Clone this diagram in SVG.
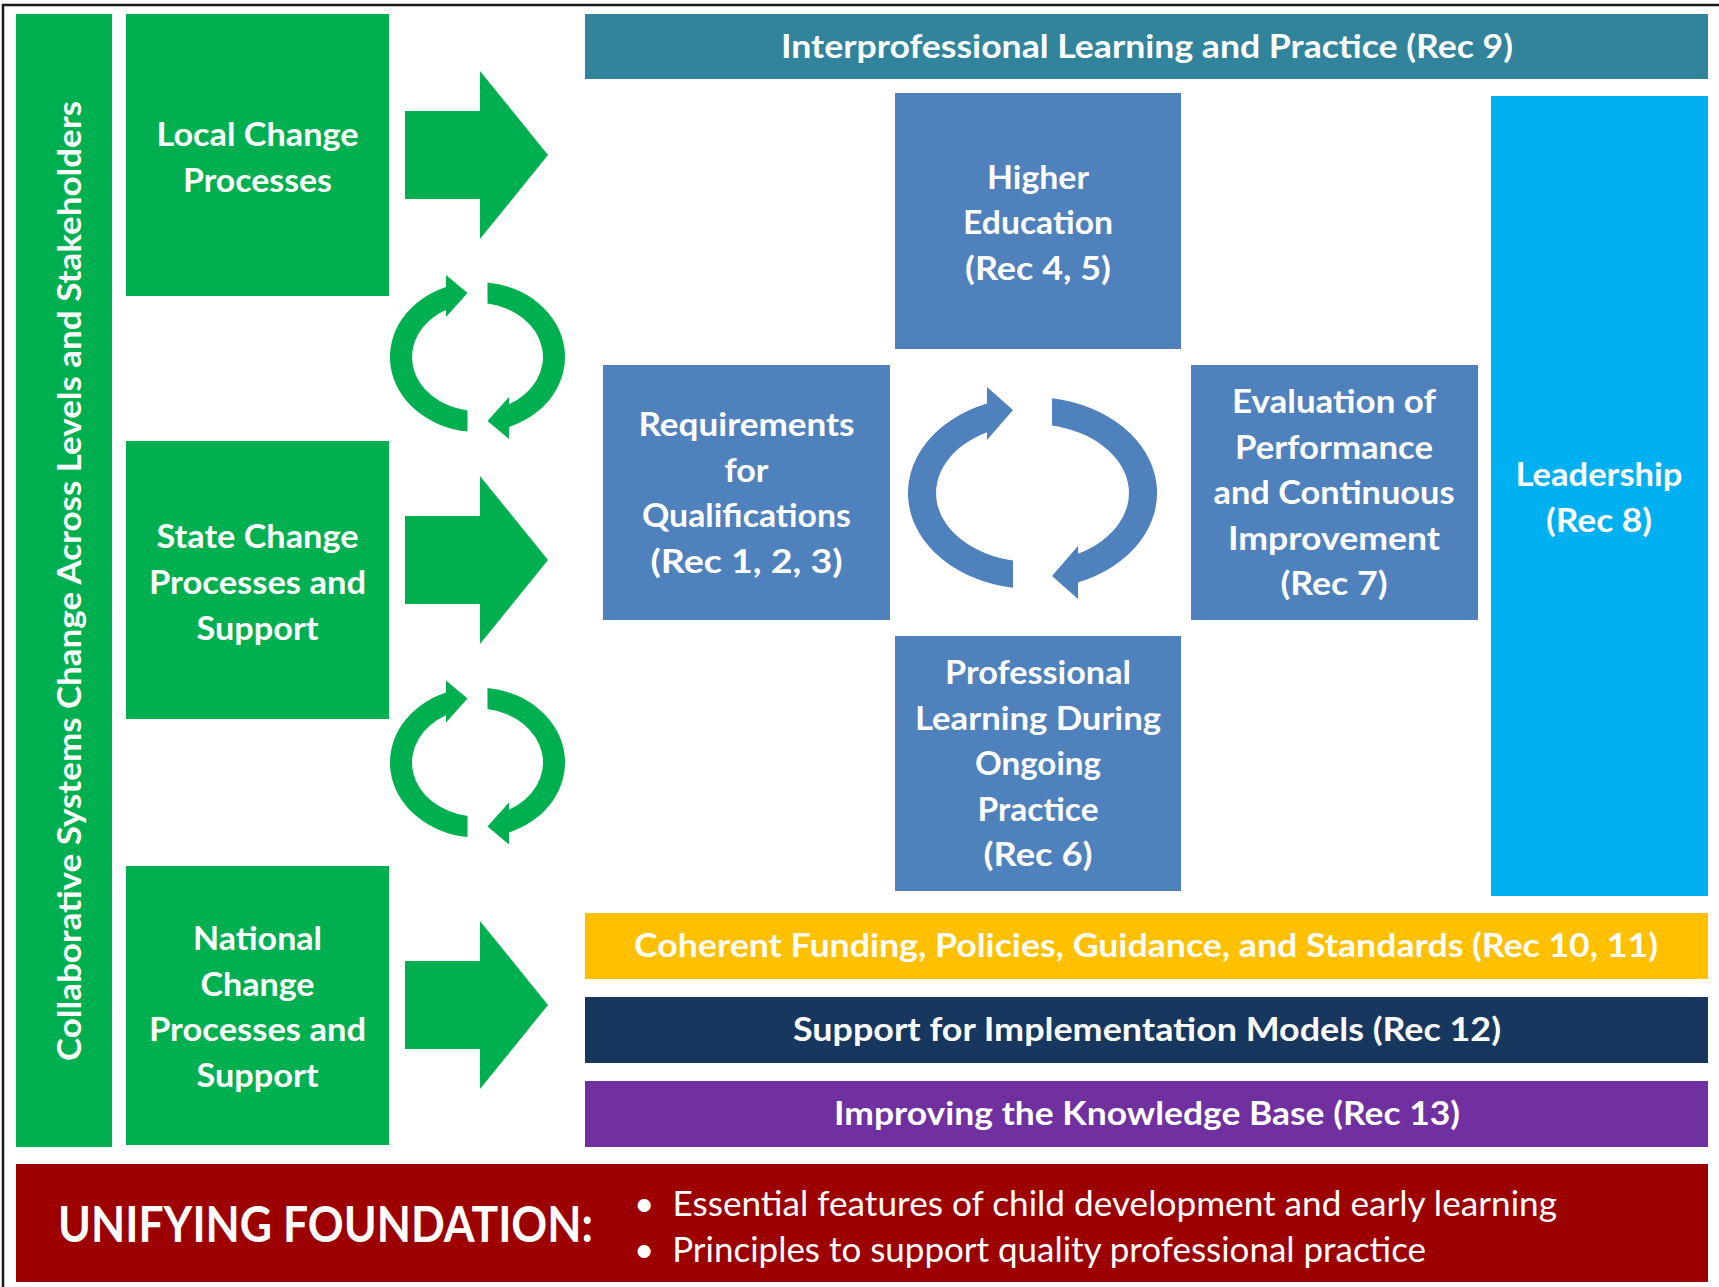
<svg xmlns="http://www.w3.org/2000/svg" width="1719" height="1287" viewBox="0 0 1719 1287">
<style>
.t{font-family:Lato,"Open Sans","Liberation Sans",sans-serif;font-weight:700;fill:#fff;text-anchor:middle}
.s{font-size:33px}
.bar{font-size:32px}
.g{fill:#00B050}
.bl{fill:#4F81BD}
.ft{font-family:Lato,"Open Sans","Liberation Sans",sans-serif;fill:#fff}
</style>
<defs>
<path id="garc" d="M-10 74.5A87.5 75 0 0 1-31.5-70L-31.5-82L-10-64L-31.5-40L-31.5-47.3A65.5 54 0 0 0-10 53.4Z"/>
<path id="barc" d="M-19.5 94.8A124.5 96 0 0 1-45.5-89.4L-45.5-106L-19.5-83L-45.5-53L-45.5-60.8A96.5 69 0 0 0-19.5 67.6Z"/>
<polygon id="barrow" points="405,-44 480,-44 480,-84 548,0 480,84 480,44 405,44"/>
</defs>
<rect width="1719" height="1287" fill="#fff"/>
<path d="M3 1287V5H1719" fill="none" stroke="#1a1a1a" stroke-width="2.5"/>

<g id="systems-change">
<rect class="g" x="16" y="14" width="96" height="1133"/>
<text class="t bar" transform="translate(81,581) rotate(-90)" textLength="960" lengthAdjust="spacingAndGlyphs">Collaborative Systems Change Across Levels and Stakeholders</text>
</g>

<g id="local-change">
<rect class="g" x="126" y="14" width="263" height="282"/>
<text class="t s" x="257.5" y="146" textLength="202" lengthAdjust="spacingAndGlyphs">Local Change</text>
<text class="t s" x="257.5" y="192" textLength="149" lengthAdjust="spacingAndGlyphs">Processes</text>
</g>

<g id="state-change">
<rect class="g" x="126" y="441" width="263" height="278"/>
<text class="t s" x="257.5" y="548" textLength="202" lengthAdjust="spacingAndGlyphs">State Change</text>
<text class="t s" x="257.5" y="594" textLength="217" lengthAdjust="spacingAndGlyphs">Processes and</text>
<text class="t s" x="257.5" y="640" textLength="122" lengthAdjust="spacingAndGlyphs">Support</text>
</g>

<g id="national-change">
<rect class="g" x="126" y="866" width="263" height="279"/>
<text class="t s" x="257.5" y="950" textLength="129" lengthAdjust="spacingAndGlyphs">National</text>
<text class="t s" x="257.5" y="996" textLength="114" lengthAdjust="spacingAndGlyphs">Change</text>
<text class="t s" x="257.5" y="1041" textLength="217" lengthAdjust="spacingAndGlyphs">Processes and</text>
<text class="t s" x="257.5" y="1087" textLength="122" lengthAdjust="spacingAndGlyphs">Support</text>
</g>

<g id="interprofessional">
<rect x="585" y="14" width="1123" height="65" fill="#31849B"/>
<text class="t bar" x="1147" y="58" textLength="732" lengthAdjust="spacingAndGlyphs">Interprofessional Learning and Practice (Rec 9)</text>
</g>

<g id="higher-education">
<rect class="bl" x="895" y="93" width="286" height="256"/>
<text class="t s" x="1038" y="189" textLength="102" lengthAdjust="spacingAndGlyphs">Higher</text>
<text class="t s" x="1038" y="234" textLength="150" lengthAdjust="spacingAndGlyphs">Education</text>
<text class="t s" x="1038" y="280" textLength="146" lengthAdjust="spacingAndGlyphs">(Rec 4, 5)</text>
</g>

<g id="requirements">
<rect class="bl" x="603" y="365" width="287" height="255"/>
<text class="t s" x="746.5" y="436" textLength="216" lengthAdjust="spacingAndGlyphs">Requirements</text>
<text class="t s" x="746.5" y="482" textLength="44" lengthAdjust="spacingAndGlyphs">for</text>
<text class="t s" x="746.5" y="527" textLength="209" lengthAdjust="spacingAndGlyphs">Qualifications</text>
<text class="t s" x="746.5" y="573" textLength="192" lengthAdjust="spacingAndGlyphs">(Rec 1, 2, 3)</text>
</g>

<g id="evaluation">
<rect class="bl" x="1191" y="365" width="287" height="255"/>
<text class="t s" x="1334" y="413" textLength="204" lengthAdjust="spacingAndGlyphs">Evaluation of</text>
<text class="t s" x="1334" y="459" textLength="198" lengthAdjust="spacingAndGlyphs">Performance</text>
<text class="t s" x="1334" y="504" textLength="241" lengthAdjust="spacingAndGlyphs">and Continuous</text>
<text class="t s" x="1334" y="550" textLength="212" lengthAdjust="spacingAndGlyphs">Improvement</text>
<text class="t s" x="1334" y="595" textLength="107" lengthAdjust="spacingAndGlyphs">(Rec 7)</text>
</g>

<g id="professional-learning">
<rect class="bl" x="895" y="636" width="286" height="255"/>
<text class="t s" x="1038" y="684" textLength="186" lengthAdjust="spacingAndGlyphs">Professional</text>
<text class="t s" x="1038" y="730" textLength="246" lengthAdjust="spacingAndGlyphs">Learning During</text>
<text class="t s" x="1038" y="775" textLength="126" lengthAdjust="spacingAndGlyphs">Ongoing</text>
<text class="t s" x="1038" y="821" textLength="121" lengthAdjust="spacingAndGlyphs">Practice</text>
<text class="t s" x="1038" y="866" textLength="109" lengthAdjust="spacingAndGlyphs">(Rec 6)</text>
</g>

<g id="leadership">
<rect x="1491" y="96" width="217" height="800" fill="#00B0F0"/>
<text class="t s" x="1599" y="486" textLength="167" lengthAdjust="spacingAndGlyphs">Leadership</text>
<text class="t s" x="1599" y="532" textLength="106" lengthAdjust="spacingAndGlyphs">(Rec 8)</text>
</g>

<g id="coherent-funding">
<rect x="585" y="913" width="1123" height="66" fill="#FFC000"/>
<text class="t bar" x="1146" y="957" textLength="1024" lengthAdjust="spacingAndGlyphs">Coherent Funding, Policies, Guidance, and Standards (Rec 10, 11)</text>
</g>

<g id="implementation-models">
<rect x="585" y="997" width="1123" height="66" fill="#17375E"/>
<text class="t bar" x="1147" y="1041" textLength="708" lengthAdjust="spacingAndGlyphs">Support for Implementation Models (Rec 12)</text>
</g>

<g id="knowledge-base">
<rect x="585" y="1081" width="1123" height="66" fill="#7030A0"/>
<text class="t bar" x="1147" y="1125" textLength="626" lengthAdjust="spacingAndGlyphs">Improving the Knowledge Base (Rec 13)</text>
</g>

<g id="unifying-foundation">
<rect x="16" y="1164" width="1692" height="118" fill="#9C0000"/>
<text class="ft" x="58" y="1242" font-size="50" font-weight="700" textLength="535" lengthAdjust="spacingAndGlyphs">UNIFYING FOUNDATION:</text>
<text class="ft" x="634" y="1216" font-size="34" textLength="923" lengthAdjust="spacingAndGlyphs">•&#160;&#160;Essential features of child development and early learning</text>
<text class="ft" x="634" y="1262" font-size="34" textLength="792" lengthAdjust="spacingAndGlyphs">•&#160;&#160;Principles to support quality professional practice</text>
</g>

<g id="connectors">
<use href="#barrow" class="g" transform="translate(0,155)"/>
<use href="#barrow" class="g" transform="translate(0,560)"/>
<use href="#barrow" class="g" transform="translate(0,1005)"/>
<g class="g" transform="translate(477.5,357)"><use href="#garc"/><use href="#garc" transform="rotate(180)"/></g>
<g class="g" transform="translate(477.5,762.5)"><use href="#garc"/><use href="#garc" transform="rotate(180)"/></g>
<g class="bl" transform="translate(1032.5,493)"><use href="#barc"/><use href="#barc" transform="rotate(180)"/></g>
</g>
</svg>
